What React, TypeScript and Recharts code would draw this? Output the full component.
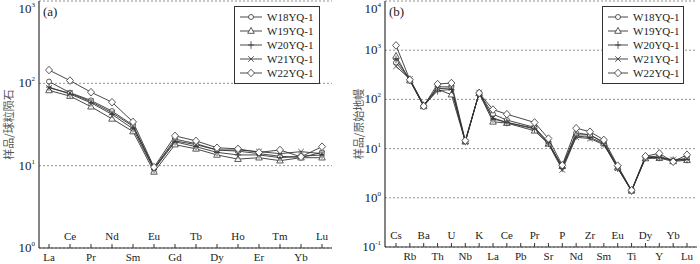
import { LineChart, Line, XAxis, YAxis, CartesianGrid, Legend } from 'recharts';

const reeElements = ['La', 'Ce', 'Pr', 'Nd', 'Sm', 'Eu', 'Gd', 'Tb', 'Dy', 'Ho', 'Er', 'Tm', 'Yb', 'Lu'];
const reeW18 = [105, 77, 62, 46, 31, 9.3, 21, 18.5, 15.5, 15, 14, 13, 12.6, 14.5];
const reeW19 = [82, 70, 52, 37, 26, 8.4, 18, 16, 13.5, 12, 12.5, 11.5, 12.5, 12.5];
const reeW20 = [90, 74, 58, 42, 28, 9.0, 19.5, 17, 14.5, 13.5, 13.5, 12.5, 13, 13.5];
const reeW21 = [88, 76, 60, 44, 30, 9.2, 20, 18, 15.5, 15.5, 14.8, 14, 14.8, 14];
const reeW22 = [145, 108, 78, 59, 34, 9.6, 23, 20, 16.5, 16, 14.5, 15.5, 12.8, 17];

const traceElements = [
  'Cs', 'Rb', 'Ba', 'Th', 'U', 'Nb', 'K', 'La', 'Ce', 'Pb', 'Pr',
  'Sr', 'P', 'Nd', 'Zr', 'Sm', 'Eu', 'Ti', 'Dy', 'Y', 'Yb', 'Lu',
];
// Pb not plotted in the original (line runs straight Ce -> Pr)
const traceW18 = [560, 250, 74, 180, 180, 14, 135, 50, 38, null, 27, 13.5, 4.2, 21, 19, 13.5, 4.3, 1.4, 6.8, 7.0, 5.6, 6.3];
const traceW19 = [760, 240, 72, 160, 125, 14, 133, 35, 33, null, 23, 12.5, 4.4, 19, 19, 13, 4.1, 1.4, 6.3, 6.4, 5.5, 5.8];
const traceW20 = [650, 255, 76, 150, 160, 14, 135, 40, 34, null, 25, 13, 4.0, 18, 17, 12.5, 4.0, 1.38, 6.6, 6.6, 5.8, 6.0];
const traceW21 = [470, 260, 78, 165, 170, 13.5, 138, 42, 34, null, 26, 12.5, 3.7, 17, 16, 12, 4.0, 1.36, 6.5, 6.5, 6.0, 6.2];
const traceW22 = [1250, 250, 73, 205, 215, 14.5, 135, 62, 50, null, 34, 16, 4.6, 26, 22, 15, 4.5, 1.42, 7.0, 8.0, 5.4, 7.5];

const sampleNames = ['W18YQ-1', 'W19YQ-1', 'W20YQ-1', 'W21YQ-1', 'W22YQ-1'];
const sampleShapes = ['circle', 'triangle', 'plus', 'cross', 'diamond'];

const reeTicks = [1, 10, 100, 1000];
const traceTicks = [0.1, 1, 10, 100, 1000, 10000];

const FONT = "'Liberation Serif', 'DejaVu Serif', serif";
const CJK_FONT = "'Noto Sans CJK SC', sans-serif";
const INK = '#333';

const reeRows = reeElements.map((el, i) => ({
  el,
  s0: reeW18[i],
  s1: reeW19[i],
  s2: reeW20[i],
  s3: reeW21[i],
  s4: reeW22[i],
}));

const traceRows = traceElements.map((el, i) => ({
  el,
  s0: traceW18[i],
  s1: traceW19[i],
  s2: traceW20[i],
  s3: traceW21[i],
  s4: traceW22[i],
}));

function Marker({ shape, x, y }: { shape: string; x: number; y: number }) {
  const common = { stroke: INK, strokeWidth: 0.8 };
  switch (shape) {
    case 'circle':
      return <circle cx={x} cy={y} r={2.5} fill="#fff" {...common} />;
    case 'triangle':
      return <path d={`M${x},${y - 3.6}L${x + 3.3},${y + 2.3}L${x - 3.3},${y + 2.3}Z`} fill="#fff" {...common} />;
    case 'plus':
      return <path d={`M${x - 3},${y}H${x + 3}M${x},${y - 3.8}V${y + 3.8}`} fill="none" {...common} />;
    case 'cross':
      return <path d={`M${x - 2.8},${y - 2.8}L${x + 2.8},${y + 2.8}M${x + 2.8},${y - 2.8}L${x - 2.8},${y + 2.8}`} fill="none" {...common} />;
    default:
      return <path d={`M${x},${y - 3.8}L${x + 3.5},${y}L${x},${y + 3.8}L${x - 3.5},${y}Z`} fill="#fff" {...common} />;
  }
}

const makeDot = (shape: string) =>
  // eslint-disable-next-line @typescript-eslint/no-explicit-any
  (props: any) => {
    const { cx, cy, index } = props;
    if (cx == null || cy == null || props.value == null) return <g key={`d${index}`} />;
    return (
      <g key={`d${index}`}>
        <Marker shape={shape} x={cx} y={cy} />
      </g>
    );
  };

// eslint-disable-next-line @typescript-eslint/no-explicit-any
function ElementTick(props: any) {
  const { x, y, payload, index, belowEven } = props;
  const below = belowEven ? index % 2 === 0 : index % 2 === 1;
  return (
    <g>
      <line x1={x} y1={y} x2={x} y2={y - 4} stroke={INK} strokeWidth={1} />
      <text
        x={x}
        y={below ? y + 13 : y - 8}
        textAnchor="middle"
        fontSize={11}
        fontFamily={FONT}
        fill="#222"
      >
        {payload.value}
      </text>
    </g>
  );
}

// eslint-disable-next-line @typescript-eslint/no-explicit-any
function PowerTick(props: any) {
  const { x, y, payload } = props;
  const exp = Math.round(Math.log10(payload.value));
  return (
    <text x={x} y={y + 4} textAnchor="end" fontSize={13} fontFamily={FONT} fill="#222">
      10
      <tspan dy={-6} fontSize={7}>
        {exp}
      </tspan>
    </text>
  );
}

// eslint-disable-next-line @typescript-eslint/no-explicit-any
function AxisTitle(props: any) {
  const { viewBox, text } = props;
  const cx = viewBox.x + 8;
  const cy = viewBox.y + viewBox.height / 2;
  return (
    <text
      x={cx}
      y={cy}
      transform={`rotate(-90 ${cx} ${cy})`}
      textAnchor="middle"
      dominantBaseline="central"
      fontSize={11}
      fontFamily={CJK_FONT}
      fill="#555"
    >
      {text}
    </text>
  );
}

function SampleLegend({ width, lineW }: { width: number; lineW: number }) {
  return (
    <div
      style={{
        width,
        border: `1px solid ${INK}`,
        background: '#fff',
        padding: '3px 0',
        boxSizing: 'border-box',
        fontFamily: FONT,
        fontSize: 11,
        color: '#222',
        whiteSpace: 'nowrap',
      }}
    >
      {sampleNames.map((name, i) => (
        <div key={name} style={{ display: 'flex', alignItems: 'center', height: 14 }}>
          <svg width={lineW} height={10} style={{ marginLeft: 5, marginRight: 5 }}>
            <line x1={0} y1={5} x2={lineW} y2={5} stroke={INK} strokeWidth={0.9} />
            <Marker shape={sampleShapes[i]} x={lineW / 2} y={5} />
          </svg>
          <span>{name}</span>
        </div>
      ))}
    </div>
  );
}

interface PanelProps {
  rows: typeof reeRows | typeof traceRows;
  domain: [number, number];
  ticks: number[];
  yWidth: number;
  marginRight: number;
  xHeight: number;
  pad: { left: number; right: number };
  belowEven: boolean;
  title: string;
  tag: string;
  legendLeft: number;
  legendWidth: number;
  legendLine: number;
}

function Panel(p: PanelProps) {
  return (
    <div style={{ position: 'relative', width: 350, height: 264 }}>
      <LineChart
        width={350}
        height={264}
        data={p.rows}
        margin={{ top: 1, right: p.marginRight, bottom: 0, left: 0 }}
      >
        <CartesianGrid vertical={false} stroke="#777" strokeDasharray="2 2" strokeWidth={0.8} />
        <XAxis
          dataKey="el"
          type="category"
          height={p.xHeight}
          padding={p.pad}
          interval={0}
          tickSize={0}
          tickMargin={0}
          tickLine={false}
          axisLine={{ stroke: INK, strokeWidth: 1.2 }}
          tick={<ElementTick belowEven={p.belowEven} />}
        />
        <XAxis
          xAxisId="top"
          orientation="top"
          dataKey="el"
          height={0}
          tick={false}
          tickLine={false}
          axisLine={{ stroke: INK, strokeWidth: 1.2 }}
        />
        <YAxis
          type="number"
          scale="log"
          domain={p.domain}
          ticks={p.ticks}
          allowDataOverflow
          width={p.yWidth}
          tickSize={0}
          tickMargin={4}
          tickLine={false}
          axisLine={{ stroke: INK, strokeWidth: 1.2 }}
          tick={<PowerTick />}
          label={<AxisTitle text={p.title} />}
        />
        <YAxis
          yAxisId="right"
          orientation="right"
          type="number"
          domain={[0, 1]}
          width={0}
          tick={false}
          tickLine={false}
          axisLine={{ stroke: INK, strokeWidth: 1.2 }}
        />
        <Legend
          layout="vertical"
          align="center"
          verticalAlign="middle"
          wrapperStyle={{ left: p.legendLeft, top: 6, width: p.legendWidth }}
          content={<SampleLegend width={p.legendWidth} lineW={p.legendLine} />}
        />
        {sampleNames.map((name, i) => (
          <Line
            key={name}
            dataKey={`s${i}`}
            name={name}
            stroke={INK}
            strokeWidth={0.9}
            connectNulls
            dot={makeDot(sampleShapes[i])}
            activeDot={false}
            isAnimationActive={false}
          />
        ))}
      </LineChart>
      <div
        style={{
          position: 'absolute',
          left: p.yWidth + 4,
          top: 4,
          fontFamily: FONT,
          fontSize: 13,
          color: '#222',
        }}
      >
        {p.tag}
      </div>
    </div>
  );
}

export default function App() {
  return (
    <div
      style={{
        position: 'absolute',
        left: 0,
        top: 0,
        width: 700,
        height: 264,
        background: '#fff',
        display: 'flex',
      }}
    >
      <Panel
        rows={reeRows}
        domain={[1, 1000]}
        ticks={reeTicks}
        yWidth={39}
        marginRight={18}
        xHeight={16}
        pad={{ left: 10, right: 10 }}
        belowEven
        title="样品/球粒陨石"
        tag="(a)"
        legendLeft={234}
        legendWidth={86}
        legendLine={22}
      />
      <Panel
        rows={traceRows}
        domain={[0.1, 10000]}
        ticks={traceTicks}
        yWidth={35}
        marginRight={3}
        xHeight={17}
        pad={{ left: 11, right: 10 }}
        belowEven={false}
        title="样品/原始地幔"
        tag="(b)"
        legendLeft={252}
        legendWidth={82}
        legendLine={20}
      />
    </div>
  );
}
